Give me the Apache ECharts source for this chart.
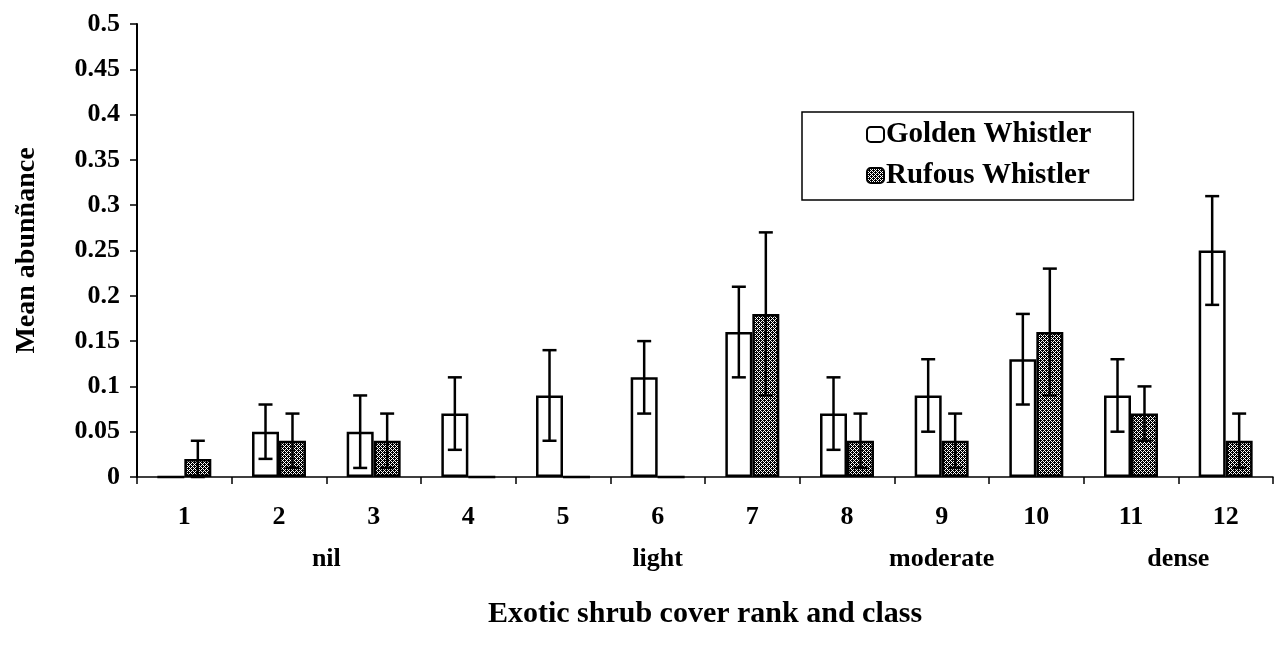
<!DOCTYPE html>
<html>
<head>
<meta charset="utf-8">
<title>Golden and Rufous Whistler abundance</title>
<script src="https://cdn.jsdelivr.net/npm/echarts@6/dist/echarts.min.js"></script>
<style>
  html, body { margin: 0; padding: 0; background: #fff; }
  #chart { width: 1279px; height: 653px; }
</style>
</head>
<body>
<div id="chart"></div>
<script>
// Exotic shrub cover ranks (categories)
const ranks = ['1', '2', '3', '4', '5', '6', '7', '8', '9', '10', '11', '12'];

// Mean abundance per rank
const goldenMean = [0, 0.05, 0.05, 0.07, 0.09, 0.11, 0.16, 0.07, 0.09, 0.13, 0.09, 0.25];
const rufousMean = [0.02, 0.04, 0.04, 0, 0, 0, 0.18, 0.04, 0.04, 0.16, 0.07, 0.04];

// Error bar limits (null = no bar)
const goldenLow  = [null, 0.02, 0.01, 0.03, 0.04, 0.07, 0.11, 0.03, 0.05, 0.08, 0.05, 0.19];
const goldenHigh = [null, 0.08, 0.09, 0.11, 0.14, 0.15, 0.21, 0.11, 0.13, 0.18, 0.13, 0.31];
const rufousLow  = [0, 0.01, 0.01, null, null, null, 0.09, 0.01, 0.01, 0.09, 0.04, 0.01];
const rufousHigh = [0.04, 0.07, 0.07, null, null, null, 0.27, 0.07, 0.07, 0.23, 0.10, 0.07];

// Y tick labels
const yTickLabels = ['0', '0.05', '0.1', '0.15', '0.2', '0.25', '0.3', '0.35', '0.4', '0.45', '0.5'];

// Cover classes: label and first/last rank they span
const coverClasses = [
  { name: 'nil', first: 0, last: 3 },
  { name: 'light', first: 4, last: 6 },
  { name: 'moderate', first: 7, last: 9 },
  { name: 'dense', first: 10, last: 11 }
];

const FONT = '"Liberation Serif", "DejaVu Serif", serif';
const CAT_GAP = 0.43; // fraction of category left empty

// Stippled fill for the Rufous Whistler bars
function makeStipple() {
  const rows = ['1101', '1010', '0111', '1010'];
  const c = document.createElement('canvas');
  c.width = 4; c.height = 4;
  const ctx = c.getContext('2d');
  ctx.fillStyle = '#fff';
  ctx.fillRect(0, 0, 4, 4);
  ctx.fillStyle = '#000';
  rows.forEach((r, y) => {
    for (let x = 0; x < r.length; x++) if (r[x] === '1') ctx.fillRect(x, y, 1, 1);
  });
  return c;
}
const stipple = { image: makeStipple(), repeat: 'repeat' };

function errorSeries(low, high, side) {
  const data = low.map((l, i) => (l === null ? null : [i, l, high[i]])).filter(d => d);
  return {
    type: 'custom',
    z: 10,
    silent: true,
    data: data,
    encode: { x: 0, y: [1, 2] },
    renderItem: function (params, api) {
      const i = api.value(0);
      const band = api.size([1, 0])[0];
      const barW = band * (1 - CAT_GAP) / 2;
      const lo = api.coord([i, api.value(1)]);
      const hi = api.coord([i, api.value(2)]);
      const x = lo[0] + side * barW / 2;
      const cap = 7;
      const style = { stroke: '#000', lineWidth: 2.5, fill: null };
      return {
        type: 'group',
        children: [
          { type: 'line', shape: { x1: x, y1: lo[1], x2: x, y2: hi[1] }, style: style },
          { type: 'line', shape: { x1: x - cap, y1: hi[1], x2: x + cap, y2: hi[1] }, style: style },
          { type: 'line', shape: { x1: x - cap, y1: lo[1], x2: x + cap, y2: lo[1] }, style: style }
        ]
      };
    }
  };
}

const chart = echarts.init(document.getElementById('chart'), null, { renderer: 'canvas' });

const option = {
  backgroundColor: '#fff',
  animation: false,
  textStyle: { fontFamily: FONT, color: '#000', fontWeight: 'bold' },
  grid: { left: 137, right: 6, top: 24, bottom: 176, containLabel: false },
  legend: {
    orient: 'vertical',
    left: 802,
    top: 112,
    padding: [8, 42, 10, 64],
    itemGap: 12,
    itemWidth: 17,
    itemHeight: 15,
    borderColor: '#000',
    borderWidth: 1.5,
    textStyle: { fontFamily: FONT, fontWeight: 'bold', fontSize: 29, color: '#000', padding: [0, 0, 0, -3] },
    data: ['Golden Whistler', 'Rufous Whistler']
  },
  xAxis: {
    type: 'category',
    data: ranks,
    name: 'Exotic shrub cover rank and class',
    nameLocation: 'middle',
    nameGap: 122,
    nameTextStyle: { fontFamily: FONT, fontWeight: 'bold', fontSize: 30, color: '#000' },
    axisLine: { lineStyle: { color: '#000', width: 1.5 } },
    axisTick: { show: true, inside: false, length: 7, lineStyle: { color: '#000', width: 1.5 } },
    axisLabel: { margin: 27, fontFamily: FONT, fontWeight: 'bold', fontSize: 26, color: '#000' }
  },
  yAxis: {
    type: 'value',
    min: 0,
    max: 0.5,
    interval: 0.05,
    name: 'Mean abunñance',
    nameLocation: 'middle',
    nameGap: 96,
    nameRotate: 90,
    nameTextStyle: { fontFamily: FONT, fontWeight: 'bold', fontSize: 28, color: '#000' },
    splitLine: { show: false },
    axisLine: { show: true, lineStyle: { color: '#000', width: 2 } },
    axisTick: { show: true, inside: false, length: 7, lineStyle: { color: '#000', width: 1.5 } },
    axisLabel: {
      margin: 17,
      fontFamily: FONT, fontWeight: 'bold', fontSize: 26, color: '#000',
      formatter: v => yTickLabels[Math.round(v / 0.05)]
    }
  },
  series: [
    {
      name: 'Golden Whistler',
      type: 'bar',
      data: goldenMean,
      barGap: '0%',
      barCategoryGap: (CAT_GAP * 100) + '%',
      itemStyle: { color: '#fff', borderColor: '#000', borderWidth: 2.5 }
    },
    {
      name: 'Rufous Whistler',
      type: 'bar',
      data: rufousMean,
      barGap: '0%',
      barCategoryGap: (CAT_GAP * 100) + '%',
      itemStyle: { color: stipple, borderColor: '#000', borderWidth: 2.5 }
    },
    errorSeries(goldenLow, goldenHigh, -1),
    errorSeries(rufousLow, rufousHigh, 1)
  ]
};

chart.setOption(option);

// Cover class labels centred under the ranks each class spans
function placeClassLabels() {
  const baseY = chart.convertToPixel({ yAxisIndex: 0 }, 0);
  const elements = coverClasses.map(c => {
    const x1 = chart.convertToPixel({ xAxisIndex: 0 }, c.first);
    const x2 = chart.convertToPixel({ xAxisIndex: 0 }, c.last);
    return {
      type: 'text',
      x: (x1 + x2) / 2,
      y: baseY + 82,
      style: {
        text: c.name,
        fill: '#000',
        font: 'bold 26px ' + FONT,
        align: 'center',
        verticalAlign: 'middle'
      }
    };
  });
  chart.setOption({ graphic: elements });
}
placeClassLabels();
</script>
</body>
</html>
